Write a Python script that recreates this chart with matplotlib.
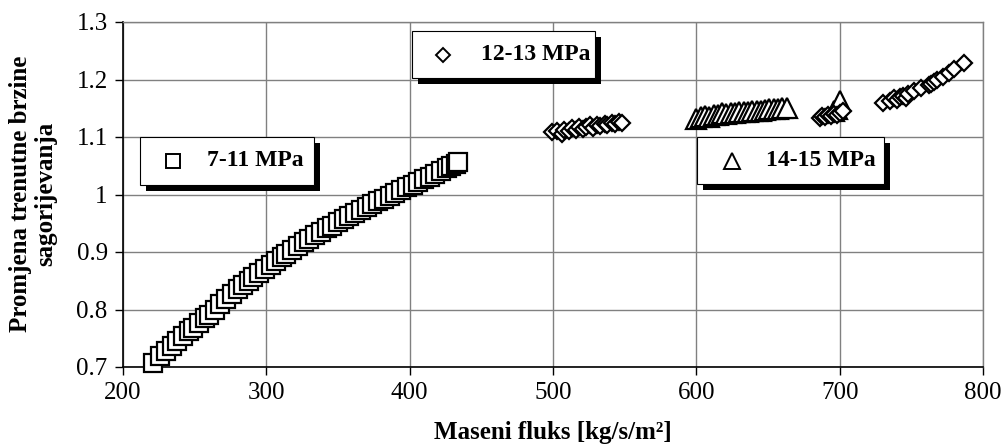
import matplotlib
matplotlib.use("Agg")
import matplotlib.pyplot as plt
from matplotlib.patches import Rectangle
from matplotlib.lines import Line2D

# ---- data ----
sq_x = [221, 226, 230, 234, 238, 242, 246, 249, 253, 257, 260, 264, 268, 272, 276,
        280, 284, 288, 291, 295, 299, 303, 307, 311, 314, 318, 322, 326, 330, 334,
        338, 342, 346, 350, 354, 358, 362, 366, 370, 374, 378, 382, 386, 390, 394,
        398, 402, 406, 410, 414, 418, 422, 426, 429, 432, 434]
sq_y = [0.707, 0.719, 0.728, 0.737, 0.746, 0.754, 0.762, 0.768, 0.776, 0.785, 0.791,
        0.800, 0.809, 0.818, 0.827, 0.835, 0.843, 0.850, 0.856, 0.864, 0.871, 0.878,
        0.885, 0.892, 0.897, 0.903, 0.910, 0.917, 0.923, 0.929, 0.935, 0.941, 0.946,
        0.952, 0.957, 0.963, 0.968, 0.973, 0.979, 0.984, 0.989, 0.993, 0.998, 1.003,
        1.008, 1.013, 1.017, 1.022, 1.027, 1.031, 1.036, 1.041, 1.046, 1.049, 1.053,
        1.056]

dia_x = [499, 503, 506, 508, 511, 513, 516, 518, 521, 523, 526, 528, 531, 533, 536,
         538, 541, 543, 546, 548,
         686, 688, 690, 692, 694, 696, 698, 700, 702,
         730, 735, 738, 740, 742, 744, 746, 748, 752, 757, 762, 764, 766, 768, 772,
         776, 780, 787]
dia_y = [1.108, 1.110, 1.106, 1.112, 1.110, 1.115, 1.113, 1.118, 1.114, 1.117, 1.120,
         1.116, 1.121, 1.119, 1.123, 1.121, 1.125, 1.122, 1.126, 1.124,
         1.133, 1.136, 1.134, 1.138, 1.136, 1.140, 1.138, 1.142, 1.145,
         1.160, 1.163, 1.167, 1.165, 1.170, 1.172, 1.168, 1.175, 1.180, 1.186, 1.190,
         1.193, 1.196, 1.200, 1.205, 1.212, 1.218, 1.228]

tri_x = [600, 603, 606, 609, 612, 615, 618, 621, 624, 627, 630, 633, 636, 639, 642,
         645, 648, 651, 654, 657, 660, 663, 696, 698, 700]
tri_y = [1.131, 1.134, 1.136, 1.135, 1.138, 1.139, 1.141, 1.140, 1.142, 1.142, 1.143,
         1.144, 1.144, 1.145, 1.146, 1.146, 1.147, 1.148, 1.149, 1.149, 1.150, 1.151,
         1.146, 1.149, 1.162]

series_labels = ["7-11 MPa", "12-13 MPa", "14-15 MPa"]
x_ticks = [200, 300, 400, 500, 600, 700, 800]
y_ticks = [0.7, 0.8, 0.9, 1.0, 1.1, 1.2, 1.3]
y_tick_labels = ["0.7", "0.8", "0.9", "1", "1.1", "1.2", "1.3"]
x_label = "Maseni fluks [kg/s/m²]"
y_label_lines = ["Promjena trenutne brzine", "sagorijevanja"]

plt.rcParams['font.family'] = ['Liberation Serif', 'DejaVu Serif']

W, H = 1005, 447
fig = plt.figure(figsize=(W / 100, H / 100), dpi=100)
ax = fig.add_axes([123 / W, 1 - 367 / H, (983 - 123) / W, (367 - 22) / H])

ax.set_xlim(200, 800)
ax.set_ylim(0.7, 1.3)
ax.set_xticks(x_ticks)
ax.set_yticks(y_ticks)
ax.set_yticklabels(y_tick_labels)
ax.grid(True, color='#808080', lw=1.0)
ax.set_axisbelow(True)
for s in ['top', 'right']:
    ax.spines[s].set_color('#808080')
    ax.spines[s].set_linewidth(1.0)
for s in ['left', 'bottom']:
    ax.spines[s].set_color('black')
    ax.spines[s].set_linewidth(1.2)
ax.tick_params(axis='both', direction='out', length=6, width=1.0, labelsize=18,
               colors='black', pad=5)

mk = dict(linestyle='none', markerfacecolor='white', markeredgecolor='black',
          markeredgewidth=1.6, clip_on=False)
ax.plot(sq_x, sq_y, marker='s', markersize=12.5, **mk, zorder=3)
ax.plot(tri_x, tri_y, marker='^', markersize=14, **mk, zorder=4)
ax.plot(dia_x, dia_y, marker='D', markersize=8.5, **mk, zorder=5)

# legend boxes with shadow (pixel coords from top-left)
def box(left, top, right, bottom, marker, ms, mx, label, tx):
    sh = 6
    fig.add_artist(Rectangle(((left + sh) / W, 1 - (bottom + sh) / H),
                             (right - left) / W, (bottom - top) / H,
                             transform=fig.transFigure, facecolor='black',
                             edgecolor='black', lw=0, zorder=10))
    fig.add_artist(Rectangle((left / W, 1 - bottom / H),
                             (right - left) / W, (bottom - top) / H,
                             transform=fig.transFigure, facecolor='white',
                             edgecolor='black', lw=0.8, zorder=11))
    cy = (top + bottom) / 2
    fig.add_artist(Line2D([mx / W], [1 - cy / H], transform=fig.transFigure,
                          marker=marker, markersize=ms, markerfacecolor='white',
                          markeredgecolor='black', markeredgewidth=1.4,
                          linestyle='none', zorder=12))
    fig.text(tx / W, 1 - cy / H, label, fontsize=17, fontweight='bold',
             ha='left', va='center', zorder=12)

box(140, 137, 314, 185, 's', 10, 173, series_labels[0], 207)
box(412, 31, 595, 78, 'D', 7, 443, series_labels[1], 481)
box(697, 137, 884, 184, '^', 11, 732, series_labels[2], 766)

fig.text(553 / W, 1 - 433 / H, x_label, fontsize=18, fontweight='bold',
         ha='center', va='center')
fig.text(21 / W, 1 - 194 / H, y_label_lines[0], fontsize=18, fontweight='bold',
         ha='center', va='center', rotation=90)
fig.text(46 / W, 1 - 194 / H, y_label_lines[1], fontsize=18, fontweight='bold',
         ha='center', va='center', rotation=90)

fig.savefig("out.png", dpi=100)
